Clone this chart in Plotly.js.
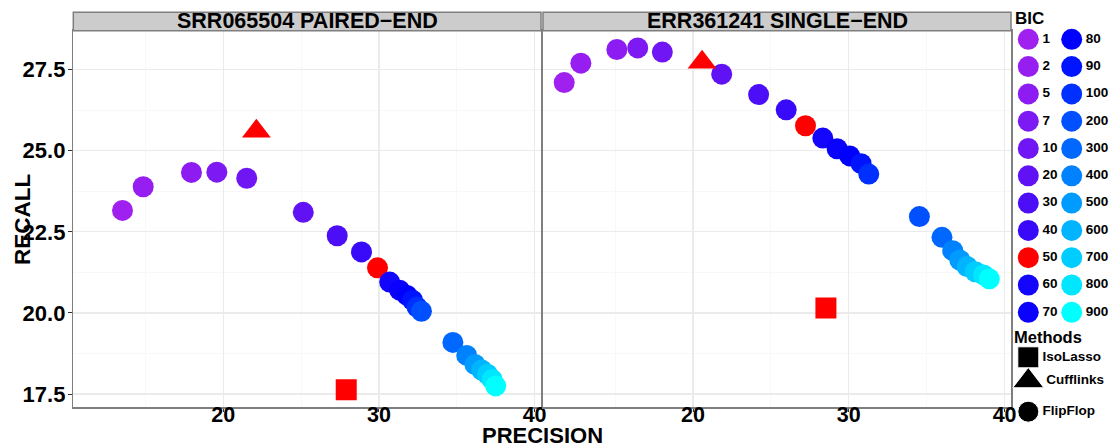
<!DOCTYPE html>
<html>
<head>
<meta charset="utf-8">
<script src="https://cdn.plot.ly/plotly-3.0.1.min.js"></script>
<style>html,body{margin:0;padding:0;background:#fff;}#chart{width:1113px;height:447px;}</style>
</head>
<body>
<div id="chart"></div>
<script>
// ---- data ----
const bicLevels = ['1','2','5','7','10','20','30','40','50','60','70','80','90','100','200','300','400','500','600','700','800','900'];
const bicColors = ['#A020F0','#961EF1','#8C1CF2','#7D19F3','#7016F4','#6012F5','#4C0EF7','#380AF9','#FF0000','#1405FB','#0A02FD','#0000FF','#0014FF','#0030FF','#0050FF','#0068FF','#0082FF','#009BFF','#00B4FF','#00CDFF','#00E6FF','#00FFFF'];

const pairedPrecision = [13.53,14.86,17.96,19.59,21.51,25.14,27.32,28.88,29.91,30.69,31.33,31.81,32.16,32.45,32.73,34.75,35.64,36.17,36.60,36.97,37.27,37.50];
const pairedRecall    = [23.16,23.89,24.33,24.34,24.15,23.10,22.38,21.88,21.39,20.95,20.70,20.54,20.39,20.18,20.05,19.09,18.69,18.41,18.24,18.11,17.95,17.75];

const singlePrecision = [11.73,12.80,15.11,16.45,18.03,21.84,24.21,25.98,27.22,28.33,29.25,30.06,30.79,31.28,34.53,35.98,36.67,37.12,37.59,38.12,38.65,39.02];
const singleRecall    = [27.10,27.70,28.12,28.17,28.04,27.36,26.73,26.26,25.77,25.39,25.06,24.84,24.60,24.28,22.97,22.33,21.92,21.63,21.43,21.27,21.17,21.05];

const methods = ['IsoLasso','Cufflinks','FlipFlop'];
const methodSymbols = ['square','triangle-up','circle'];
// other methods: [IsoLasso, Cufflinks]
const pairedOtherPrecision = [27.90, 22.13];
const pairedOtherRecall    = [17.63, 25.60];
const singleOtherPrecision = [28.53, 20.58];
const singleOtherRecall    = [20.15, 27.73];

const panels = ['SRR065504 PAIRED\u2212END','ERR361241 SINGLE\u2212END'];

// ---- styling ----
const FONT = 'Liberation Sans, Arial, Helvetica, sans-serif';
const W = 1113, H = 447;
const px = v => v / W, py = v => 1 - v / H;

const traces = [];
function panelTraces(xa, ya, prec, rec, oPrec, oRec) {
  traces.push({
    type: 'scatter', mode: 'markers', xaxis: xa, yaxis: ya,
    x: prec, y: rec,
    marker: {symbol: 'circle', size: 21, color: bicColors, opacity: 1, line: {width: 0}},
    hoverinfo: 'x+y', showlegend: false
  });
  traces.push({
    type: 'scatter', mode: 'markers', xaxis: xa, yaxis: ya,
    x: oPrec, y: oRec,
    marker: {symbol: methodSymbols.slice(0, 2), size: [21, 25], color: '#FF0000', opacity: 1, line: {width: 0}},
    hoverinfo: 'x+y', showlegend: false
  });
}
panelTraces('x', 'y', pairedPrecision, pairedRecall, pairedOtherPrecision, pairedOtherRecall);
panelTraces('x2', 'y2', singlePrecision, singleRecall, singleOtherPrecision, singleOtherRecall);

// legend drawn on a pixel-unit helper axis
const legX = [], legY = [], legText = [];
bicLevels.forEach((lab, i) => {
  const col = Math.floor(i / 11), row = i % 11;
  legX.push(col === 0 ? 1028.3 : 1071.7);
  legY.push(39.3 + 27.3 * row);
  legText.push(lab);
});
traces.push({
  type: 'scatter', mode: 'markers+text', xaxis: 'x3', yaxis: 'y3',
  x: legX, y: legY, text: legText, textposition: 'middle right',
  textfont: {family: FONT, size: 13.5, color: '#000', weight: 'bold'},
  marker: {symbol: 'circle', size: 21, color: bicColors, opacity: 1},
  hoverinfo: 'skip', showlegend: false, cliponaxis: false
});
const mY = [357.3, 381, 411.7];
traces.push({
  type: 'scatter', mode: 'markers+text', xaxis: 'x3', yaxis: 'y3',
  x: methods.map(() => 1028.3), y: mY, text: methods, textposition: 'middle right',
  textfont: {family: FONT, size: 13.5, color: '#000', weight: 'bold'},
  marker: {symbol: methodSymbols, size: [21, 27, 21], color: '#000', opacity: 1},
  hoverinfo: 'skip', showlegend: false, cliponaxis: false
});

const xrange = [10.37, 40.41], yrange = [17.09, 28.70];
const grid = '#EBEBEB', minorGrid = '#F6F6F6', border = '#7F7F7F';
function xAxis(dom, anchor) {
  return {
    domain: dom, anchor: anchor, range: xrange, autorange: false,
    tick0: 0, dtick: 10, ticks: 'outside', ticklen: 3, tickwidth: 1, tickcolor: '#333',
    ticklabelstandoff: -16,
    showgrid: true, gridcolor: grid, gridwidth: 1.3, zeroline: false,
    minor: {tick0: 0, dtick: 5, showgrid: true, gridcolor: minorGrid, gridwidth: 0.8, ticks: ''},
    showline: true, mirror: true, linecolor: border, linewidth: 1.5,
    tickfont: {family: FONT, size: 21.5, color: '#000', weight: 'bold'}, fixedrange: true
  };
}
function yAxis(anchor, showLabels) {
  return {
    domain: [py(407.3), py(30.7)], anchor: anchor, range: yrange, autorange: false,
    tick0: 0, dtick: 2.5, tickformat: '.1f',
    ticks: showLabels ? 'outside' : '', ticklen: 4, tickwidth: 1, tickcolor: '#333',
    ticklabelstandoff: -2,
    showticklabels: showLabels,
    showgrid: true, gridcolor: grid, gridwidth: 1.3, zeroline: false,
    minor: {tick0: 0, dtick: 1.25, showgrid: true, gridcolor: minorGrid, gridwidth: 0.8, ticks: ''},
    showline: true, mirror: true, linecolor: border, linewidth: 1.5,
    tickfont: {family: FONT, size: 22, color: '#000', weight: 'bold'}, fixedrange: true
  };
}

const layout = {
  width: W, height: H,
  margin: {l: 0, r: 0, t: 0, b: 0},
  paper_bgcolor: '#fff', plot_bgcolor: '#fff',
  showlegend: false,
  xaxis: xAxis([px(73.3), px(541)], 'y'),
  yaxis: yAxis('x', true),
  xaxis2: xAxis([px(543), px(1011)], 'y2'),
  yaxis2: yAxis('x2', false),
  xaxis3: {domain: [px(1012), 1], range: [1012, 1113], visible: false, fixedrange: true, anchor: 'y3'},
  yaxis3: {domain: [0, 1], range: [447, 0], visible: false, fixedrange: true, anchor: 'x3'},
  shapes: [
    {type: 'rect', xref: 'paper', yref: 'paper', x0: px(73.3), x1: px(541), y0: py(30.7), y1: py(12.3),
     fillcolor: '#CCCCCC', line: {color: border, width: 1.5}, layer: 'above'},
    {type: 'rect', xref: 'paper', yref: 'paper', x0: px(543), x1: px(1011), y0: py(30.7), y1: py(12.3),
     fillcolor: '#CCCCCC', line: {color: border, width: 1.5}, layer: 'above'}
  ],
  annotations: [
    {text: panels[0], xref: 'paper', yref: 'paper', x: px((73.3 + 541) / 2), y: py(21.5),
     showarrow: false, xanchor: 'center', yanchor: 'middle',
     font: {family: FONT, size: 21.5, color: '#000', weight: 'bold'}},
    {text: panels[1], xref: 'paper', yref: 'paper', x: px((543 + 1011) / 2), y: py(21.5),
     showarrow: false, xanchor: 'center', yanchor: 'middle',
     font: {family: FONT, size: 21.5, color: '#000', weight: 'bold'}},
    {text: 'PRECISION', xref: 'paper', yref: 'paper', x: px(542), y: py(435.5),
     showarrow: false, xanchor: 'center', yanchor: 'middle', borderpad: 0,
     font: {family: FONT, size: 22, color: '#000', weight: 'bold'}},
    {text: 'RECALL', xref: 'paper', yref: 'paper', x: px(22), y: py(220), textangle: -90,
     showarrow: false, xanchor: 'center', yanchor: 'middle',
     font: {family: FONT, size: 22.5, color: '#000', weight: 'bold'}},
    {text: 'BIC', xref: 'paper', yref: 'paper', x: px(1013), y: py(19),
     showarrow: false, xanchor: 'left', yanchor: 'middle',
     font: {family: FONT, size: 17, color: '#000', weight: 'bold'}},
    {text: 'Methods', xref: 'paper', yref: 'paper', x: px(1012), y: py(337),
     showarrow: false, xanchor: 'left', yanchor: 'middle',
     font: {family: FONT, size: 16.5, color: '#000', weight: 'bold'}}
  ]
};

Plotly.newPlot('chart', traces, layout, {displayModeBar: false, staticPlot: true});
</script>
</body>
</html>
